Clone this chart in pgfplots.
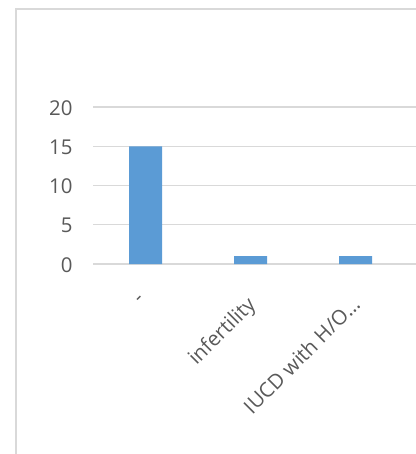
\documentclass[border=0pt]{standalone}
\usepackage{pgfplots}
\pgfplotsset{compat=1.18}
\usepackage{fontspec}
\setmainfont{Open Sans}
\definecolor{barblue}{HTML}{5B9BD5}
\definecolor{gridgray}{HTML}{D9D9D9}
\definecolor{txtgray}{HTML}{595959}
\begin{document}
\begin{tikzpicture}
\useasboundingbox (0,0) rectangle (416bp,-454bp);
\draw[gridgray, line width=2bp] (16bp,-470bp) -- (16bp,-9bp) -- (430bp,-9bp);
\begin{axis}[
  at={(93bp,-264bp)}, anchor=south west,
  scale only axis,
  width=323.4bp, height=157bp,
  xmin=-0.5, xmax=2.58,
  ymin=0, ymax=20,
  ytick={0,5,10,15,20},
  xtick={0,1,2},
  xticklabels={-, infertility, IUCD with H/O…},
  axis line style={draw=none},
  major tick length=0pt,
  ymajorgrids,
  grid style={gridgray, line width=1.2bp},
  tick label style={font=\fontsize{20.5}{24}\selectfont, text=txtgray},
  /pgf/number format/assume math mode=true,
  yticklabel style={anchor=east, xshift=-17bp, yshift=-1bp},
  xticklabel style={xshift=-5bp, yshift=-26bp, rotate=45, anchor=north east},
  clip=false,
]
\addplot[ybar, bar width=33bp, fill=barblue, draw=none] coordinates {(0,15) (1,1) (2,1)};
\end{axis}
\end{tikzpicture}
\end{document}
